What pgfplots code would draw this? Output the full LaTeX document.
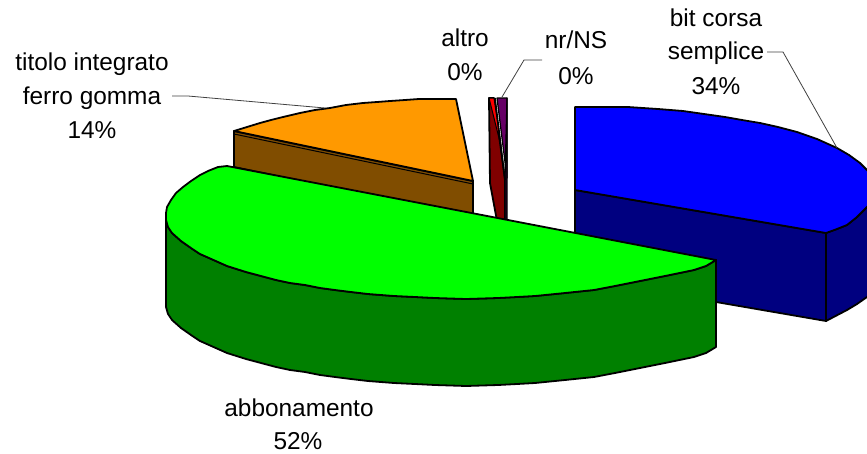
\documentclass[border=0pt]{standalone}
\usepackage{pgfplots}
\pgfplotsset{compat=1.18}
\usepackage{fontspec}
\setmainfont{Liberation Sans}

\definecolor{blutop}{RGB}{0,0,255}
\definecolor{bluside}{RGB}{0,0,128}
\definecolor{vertop}{RGB}{0,255,0}
\definecolor{verside}{RGB}{0,128,0}
\definecolor{oratop}{RGB}{255,153,0}
\definecolor{oraside}{RGB}{128,77,0}
\definecolor{redtop}{RGB}{255,0,0}
\definecolor{redside}{RGB}{128,0,0}
\definecolor{purtop}{RGB}{102,0,102}
\definecolor{purside}{RGB}{51,0,51}

\pgfplotsset{
  slice/.style={draw=black,line width=1.8pt,line join=round,mark=none},
  leader/.style={draw=black!75,line width=0.8pt,mark=none},
}
\tikzset{lab/.style={anchor=base,inner sep=0pt,font=\fontsize{24.4}{28}\selectfont}}

\begin{document}
\begin{tikzpicture}
\useasboundingbox (0,0) rectangle (867pt,453pt);
\begin{axis}[
    scale only axis,
    width=867pt, height=453pt,
    xmin=0, xmax=867,
    ymin=0, ymax=453,
    y dir=reverse,
    hide axis,
]

% bit corsa semplice
\addplot[slice,fill=bluside] coordinates {
  (575,190)(826,233)(826,321)(716,302)(575,277)
} --cycle;
\addplot[slice,fill=bluside] coordinates {
  (826,233)(837,229)(847,225)(857,217)(867,207)(875,198)(875,290)(867,297)
  (857,304)(847,310)(826,321)
} --cycle;
\addplot[slice,fill=blutop] coordinates {
  (575,107)(628,107)(658,109)(683,111)(704,114)(725,117)(742,120)(760,123)
  (778,127)(797,132)(817,139)(837,148)(849,155)(860,163)(868,171)(875,180)
  (875,198)(867,207)(857,217)(847,225)(837,229)(826,233)(575,190)
} --cycle;

% titolo integrato ferro gomma
\addplot[slice,fill=oraside] coordinates {
  (234,131)(473,181)(473,217)(234,167)
} --cycle;
\addplot[slice,line width=1pt] coordinates {(234,134)(473,184)};
\addplot[slice,fill=oratop] coordinates {
  (456,99)(419,99)(405,100)(390,101)(377,102)(363,103)(346,105)(330,108)
  (315,110)(300,113)(283,117)(271,120)(260,123)(247,127)(234,131)(473,181)
} --cycle;

% altro
\addplot[slice,fill=redside] coordinates {
  (489,98)(490,183)(497,221)(505,221)(505,180)(494,98)
} --cycle;
\addplot[slice,line width=1pt,fill=redtop] coordinates {
  (489,98)(494,98)(501,146)
} --cycle;

% nr/NS
\addplot[slice,line width=1.2pt,fill=purtop] coordinates {
  (497,98)(507,98)(507,178)
} --cycle;
\addplot[slice,line width=1.2pt,fill=purside] coordinates {
  (507,98)(507,178)(507,221)(505,221)(505,178)
} --cycle;
\addplot[slice,line width=1.6pt] coordinates {(495,98)(505,180)};

% abbonamento
\addplot[slice,fill=verside] coordinates {
  (166,220)(168,227)(172,233)(181,241)(191,248)(200,254)(209,258)(227,266)
  (246,272)(261,276)(276,280)(290,283)(305,285)(320,288)(335,290)(351,292)
  (368,294)(381,295)(394,296)(415,297)(435,298)(466,299)(498,298)(517,297)
  (535,296)(565,293)(594,290)(615,286)(635,282)(665,276)(694,270)(706,266)
  (716,260)(716,347)(706,353)(694,357)(665,363)(635,369)(615,373)(594,377)
  (565,380)(535,383)(517,384)(498,385)(466,386)(435,385)(415,384)(394,383)
  (381,382)(368,381)(351,379)(335,377)(320,375)(305,372)(290,370)(276,367)
  (261,363)(246,359)(227,353)(209,345)(200,341)(191,335)(181,328)(172,320)
  (168,314)(166,307)
} --cycle;
\addplot[slice,fill=vertop] coordinates {
  (227,166)(218,167)(208,171)(200,175)(191,181)(183,187)(176,193)(171,200)
  (167,207)(166,213)(166,220)(168,227)(172,233)(181,241)(191,248)(200,254)
  (209,258)(227,266)(246,272)(261,276)(276,280)(290,283)(305,285)(320,288)
  (335,290)(351,292)(368,294)(381,295)(394,296)(415,297)(435,298)(466,299)
  (498,298)(517,297)(535,296)(565,293)(594,290)(615,286)(635,282)(665,276)
  (694,270)(706,266)(716,260)
} --cycle;

% linee di richiamo
\addplot[leader] coordinates {(767,52)(783,52)(837,148)};
\addplot[leader] coordinates {(542,60)(524,60)(502,97)};
\addplot[leader] coordinates {(172,96)(188,96)(325,108)};

% etichette
\node[lab] at (axis cs:716,26) {bit corsa};
\node[lab] at (axis cs:716,59) {semplice};
\node[lab] at (axis cs:716,94) {34\%};
\node[lab] at (axis cs:576,48) {nr/NS};
\node[lab] at (axis cs:576,84) {0\%};
\node[lab] at (axis cs:465,46) {altro};
\node[lab] at (axis cs:465,80) {0\%};
\node[lab] at (axis cs:92,70) {titolo integrato};
\node[lab] at (axis cs:92,104) {ferro gomma};
\node[lab] at (axis cs:92,138) {14\%};
\node[lab] at (axis cs:299,416) {abbonamento};
\node[lab] at (axis cs:298,449) {52\%};

\end{axis}
\end{tikzpicture}
\end{document}
